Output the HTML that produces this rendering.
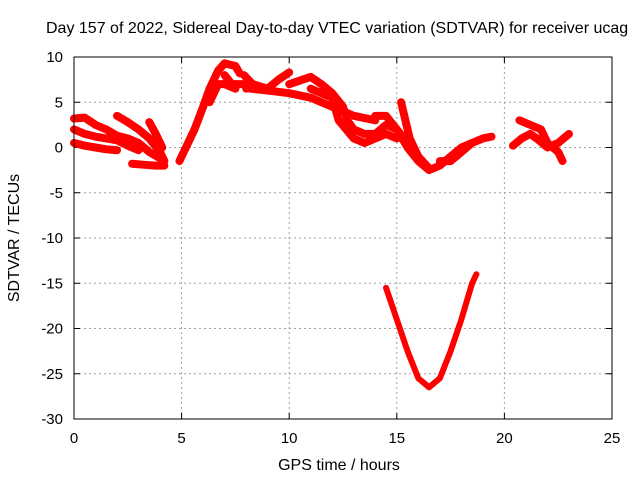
<!DOCTYPE html>
<html><head><meta charset="utf-8"><style>
body{margin:0;background:#fff}
svg text{font-family:"Liberation Sans",sans-serif;font-size:15px;fill:#000}
</style></head><body>
<svg width="640" height="480" xmlns="http://www.w3.org/2000/svg">
<rect width="640" height="480" fill="#fff"/>
<text x="46" y="33" style="font-size:16px">Day 157 of 2022, Sidereal Day-to-day VTEC variation (SDTVAR) for receiver ucag</text>
<g id="grid"></g>
<g id="ticks"></g>
<g id="series"></g>
<rect x="74" y="57" width="538" height="362" fill="none" stroke="#000" stroke-width="1"/>
<text x="339" y="470" text-anchor="middle" style="font-size:16px">GPS time / hours</text>
<text transform="translate(19,238) rotate(-90)" text-anchor="middle" style="font-size:16px">SDTVAR / TECUs</text>
</svg>
<script>
const xTicks=[0,5,10,15,20,25];
const yTicks=[10,5,0,-5,-10,-15,-20,-25,-30];
const track1=[[0,3.2],[0.5,3.3],[1,2.5],[1.5,2],[2,1.3],[2.5,1],[3,0.5],[3.5,-0.5],[4,-1.2]];
const track2=[[0,2],[0.5,1.5],[1,1.2],[1.5,1],[2,0.8],[2.5,0.2],[3,-0.3]];
const track3=[[0,0.5],[0.5,0.2],[1,0],[1.5,-0.2],[2,-0.3]];
const track4=[[2,3.5],[2.5,2.8],[3,2],[3.5,1],[4,-0.5],[4.2,-1.5]];
const track5=[[2.7,-1.8],[3.2,-1.9],[3.8,-2],[4.2,-2]];
const track6=[[3.5,2.8],[3.8,1.5],[4.1,0]];
const track7=[[4.9,-1.5],[5.2,0],[5.6,2],[6,4.5],[6.3,6.5],[6.7,8.5],[7,9.3],[7.5,9],[7.7,8.2]];
const track8=[[6.3,5],[6.7,7],[7,7],[7.5,6.5],[7,8],[7.3,7],[8,7],[8,6.5]];
const track9=[[7.9,8],[8.3,7],[9,6.5],[9.5,7.5],[10,8.3]];
const track10=[[8.2,6.5],[9,6.3],[10,6],[11,5.5],[12,4.5],[13,3.5],[14,3]];
const track11=[[10,7],[11,7.8],[11.5,7],[12,6],[12.5,4.5],[12.7,3],[13,2],[13.5,1.5],[14,1.5],[14.5,2.5],[15,2],[15.5,0.5],[16,-1],[16.5,-2.3]];
const track12=[[11,6.5],[12,5.5],[12.3,3],[13,1],[13.5,0.5],[14,1],[14.5,1.5],[15,1]];
const track13=[[14,3.5],[14.5,3.5],[15,2],[15.5,0],[16,-1.5],[16.5,-2.5],[17,-2],[17.5,-1],[18,0],[18.5,0.5],[19,1],[19.4,1.2]];
const track14=[[15.2,5],[15.4,3],[15.6,1],[16,-1]];
const track15=[[17,-1.5],[17.5,-1.5],[18,-0.5],[18.5,0.5]];
const track16=[[20.4,0.2],[20.8,1],[21.2,1.5],[21.5,1],[22,0],[22.5,0.5],[23,1.5]];
const track17=[[20.7,3],[21.2,2.5],[21.7,2],[22,0.5],[22.5,-0.5],[22.7,-1.5]];
const trackDip=[[14.5,-15.5],[15,-19],[15.5,-22.5],[16,-25.5],[16.5,-26.5],[17,-25.5],[17.5,-22.5],[18,-19],[18.5,-15],[18.7,-14]];
const tracks=[track1,track2,track3,track4,track5,track6,track7,track8,track9,track10,track11,track12,track13,track14,track15,track16,track17,trackDip];
const X0=74,X1=612,Y0=419,Y1=57;
const xs=v=>X0+(v-0)/25*(X1-X0);
const ys=v=>Y0-(v+30)/40*(Y0-Y1);
const NS='http://www.w3.org/2000/svg';
const grid=document.getElementById('grid'),ticks=document.getElementById('ticks'),ser=document.getElementById('series');
function mk(t,a,p){const e=document.createElementNS(NS,t);for(const k in a)e.setAttribute(k,a[k]);p.appendChild(e);return e;}
xTicks.forEach(v=>{
 const x=xs(v);
 if(v>0&&v<25){const g=mk('line',{x1:x,x2:x,y1:Y1,y2:Y0,stroke:'#a0a0a0','stroke-dasharray':'2,3'},grid);
 
 }
 mk('line',{x1:x,x2:x,y1:Y0,y2:Y0-6,stroke:'#000'},ticks);
 mk('line',{x1:x,x2:x,y1:Y1,y2:Y1+6,stroke:'#000'},ticks);
 const t=mk('text',{x:x,y:Y0+24,'text-anchor':'middle'},ticks);t.textContent=v;
 
 
});
yTicks.forEach(v=>{
 const y=ys(v);
 if(v>-30&&v<10){const g=mk('line',{x1:X0,x2:X1,y1:y,y2:y,stroke:'#a0a0a0','stroke-dasharray':'2,3'},grid);
 
 }
 mk('line',{x1:X0,x2:X0+6,y1:y,y2:y,stroke:'#000'},ticks);
 mk('line',{x1:X1,x2:X1-6,y1:y,y2:y,stroke:'#000'},ticks);
 const t=mk('text',{x:X0-11,y:y+5,'text-anchor':'end'},ticks);t.textContent=v;
 
 
});
tracks.forEach((tr,i)=>{
 const p=mk('polyline',{points:tr.map(d=>xs(d[0])+','+ys(d[1])).join(' '),fill:'none',stroke:'#ff0000','stroke-width':(tr===trackDip?6:8),'stroke-linejoin':'round','stroke-linecap':'round'},ser);
 
 
});
</script>
</body></html>
